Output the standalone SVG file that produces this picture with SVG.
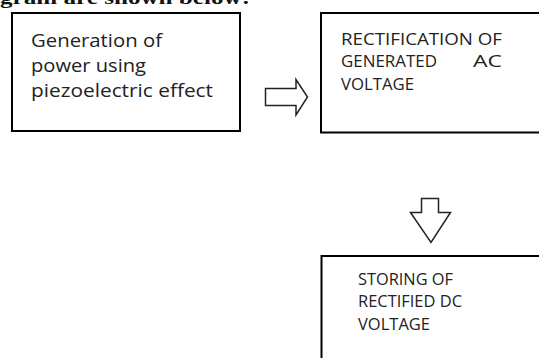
<svg xmlns="http://www.w3.org/2000/svg" width="539" height="358" viewBox="0 0 539 358">
<style>
.box{fill:#fff;stroke:#000;stroke-width:2}
.arr{fill:#fff;stroke:#222;stroke-width:1.5;stroke-linejoin:miter}
.t1{font-family:"Open Sans","Liberation Sans",sans-serif;font-size:19px;fill:#222}
.t2{font-family:"Open Sans","Liberation Sans",sans-serif;font-size:16px;fill:#222}
.t3{font-family:"Open Sans","Liberation Sans",sans-serif;font-size:15.5px;fill:#222}
.top{font-family:"Liberation Serif",serif;font-size:19px;font-weight:bold;fill:#111}
</style>
<rect width="539" height="358" fill="#fff"/>
<text class="top" x="0" y="3.5" textLength="250" lengthAdjust="spacingAndGlyphs">gram are shown below:</text>
<g id="node-generation">
<rect class="box" x="12" y="13" width="228" height="118"/>
<text class="t1" x="31" y="47" textLength="131" lengthAdjust="spacingAndGlyphs">Generation of</text>
<text class="t1" x="31" y="72" textLength="115" lengthAdjust="spacingAndGlyphs">power using</text>
<text class="t1" x="31" y="97" textLength="182" lengthAdjust="spacingAndGlyphs">piezoelectric effect</text>
</g>
<g id="node-rectification">
<rect class="box" x="321" y="13" width="230" height="119.5"/>
<text class="t2" x="341" y="44.5" textLength="161" lengthAdjust="spacingAndGlyphs">RECTIFICATION OF</text>
<text class="t2" x="341" y="67" textLength="96" lengthAdjust="spacingAndGlyphs">GENERATED</text>
<text class="t2" x="473" y="67" textLength="29" lengthAdjust="spacingAndGlyphs">AC</text>
<text class="t2" x="341" y="89.5" textLength="73" lengthAdjust="spacingAndGlyphs">VOLTAGE</text>
</g>
<g id="node-storing">
<rect class="box" x="321.5" y="256" width="230" height="120"/>
<text class="t3" x="358" y="284.5" textLength="95" lengthAdjust="spacingAndGlyphs">STORING OF</text>
<text class="t3" x="358" y="307" textLength="104" lengthAdjust="spacingAndGlyphs">RECTIFIED DC</text>
<text class="t3" x="358" y="330" textLength="72" lengthAdjust="spacingAndGlyphs">VOLTAGE</text>
</g>
<g id="connectors">
<path class="arr" d="M265.5,88.5 H296 V79.5 L307.5,97 L296,115 V105.5 H265.5 Z"/>
<path class="arr" d="M421.5,198.5 H438.5 V212.5 H450.5 L431,242.5 L410.5,212.5 H421.5 Z"/>
</g>
</svg>
